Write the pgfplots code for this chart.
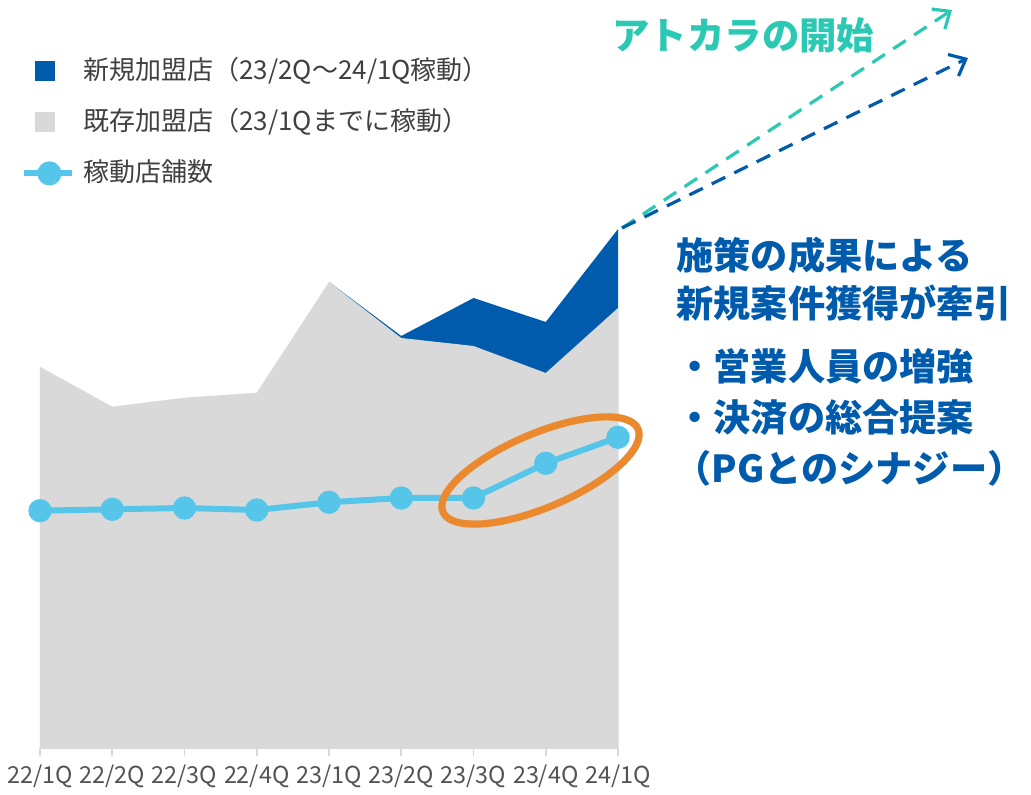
\documentclass[border=0pt]{standalone}
\usepackage{fontspec}
\setmainfont{Noto Sans CJK JP}
\usepackage{pgfplots}
\pgfplotsset{compat=1.18}
\usetikzlibrary{arrows.meta}

\definecolor{newblue}{RGB}{0,91,172}
\definecolor{oldgray}{RGB}{217,217,217}
\definecolor{linecyan}{RGB}{86,197,234}
\definecolor{ringorange}{RGB}{234,137,46}
\definecolor{atoteal}{RGB}{43,201,180}
\definecolor{txtgray}{RGB}{64,64,64}

\begin{document}
\begin{tikzpicture}
\begin{axis}[
x=36.125pt,y=0.5pt,
xmin=0,xmax=8,ymin=0,ymax=748,
axis x line=bottom,hide y axis,
axis line style={-,draw=oldgray,line width=0.8pt},
xtick={0,...,8},
xticklabels={22/1Q,22/2Q,22/3Q,22/4Q,23/1Q,23/2Q,23/3Q,23/4Q,24/1Q},
tick align=outside,major tick length=4pt,
tick style={draw=oldgray,line width=0.8pt},
xticklabel style={font=\fontsize{11.7}{12}\selectfont,text=txtgray!90,yshift=-1pt},
clip=false,
legend style={at={(axis cs:-0.346,695)},anchor=north west,draw=none,fill=none,
  font=\fontsize{13}{14}\selectfont,text=txtgray,
  nodes={inner sep=0pt,text height=11pt,text depth=3pt},
  row sep=11.5pt,column sep=4pt},
legend cell align=left,
]
% new shops (total height), drawn under the existing shops
\addplot[fill=newblue,draw=none,
  legend image code/.code={\path[fill=none,draw=none] (0,0) -- (24pt,0);\fill[newblue] (5.5pt,-5pt) rectangle (15.5pt,5pt);}]
  coordinates {(4,466)(5,412)(6,450)(7,426)(8,519)} \closedcycle;
\addlegendentry{新規加盟店（23/2Q～24/1Q稼動）}
\addplot[fill=oldgray,draw=none,
  legend image code/.code={\path[fill=none,draw=none] (0,0) -- (24pt,0);\fill[oldgray] (5.5pt,-5pt) rectangle (15.5pt,5pt);}]
  coordinates {(0,381.3)(1,341.3)(2,350.3)(3,355.3)(4,466)(5,410)(6,402)(7,375)(8,440)} \closedcycle;
\addlegendentry{既存加盟店（23/1Qまでに稼動）}
\addplot[linecyan,line width=3pt,mark=*,mark size=4.3pt,
  legend image code/.code={\draw[linecyan,line width=3pt] (0,0) -- (24pt,0);\fill[linecyan] (12.5pt,0) circle (4.5pt);}]
  coordinates {(0,237.3)(1,238.7)(2,240)(3,238)(4,245.7)(5,250)(6,250)(7,284.7)(8,310.7)};
\addlegendentry{稼動店舗数}
\coordinate (TL) at (axis cs:-0.553633,748);
\end{axis}
\begin{scope}[shift={(TL)},x=0.5pt,y=-0.5pt]
\path (0,0) rectangle (1031,788);
% highlight ring
\draw[ringorange,line width=3.6pt,rotate around={23:(540.5,470.5)}] (540.5,470.5) ellipse [x radius=106,y radius=37];
% outlook arrows
\draw[atoteal,line width=1.6pt,dash pattern=on 7.5pt off 5pt,-{Straight Barb[length=7pt,width=12pt,line width=1.6pt]}] (622,228) -- (952,10);
\draw[newblue,line width=1.6pt,dash pattern=on 7.5pt off 5pt,-{Straight Barb[length=7pt,width=12pt,line width=1.6pt]}] (622,228) -- (968,58);
\node[anchor=west,text=atoteal,font=\fontsize{18.7}{20}\selectfont\bfseries,inner sep=0pt] at (612,35) {アトカラの開始};
\begin{scope}[every node/.style={anchor=west,text=newblue,font=\fontsize{18.6}{20}\selectfont\bfseries,inner sep=0pt}]
\node at (676,255) {施策の成果による};
\node at (676,303) {新規案件獲得が牽引};
\node at (676,366) {・営業人員の増強};
\node at (676,418) {・決済の総合提案};
\node at (674,468) {（PGとのシナジー）};
\end{scope}
\end{scope}
\end{tikzpicture}
\end{document}
